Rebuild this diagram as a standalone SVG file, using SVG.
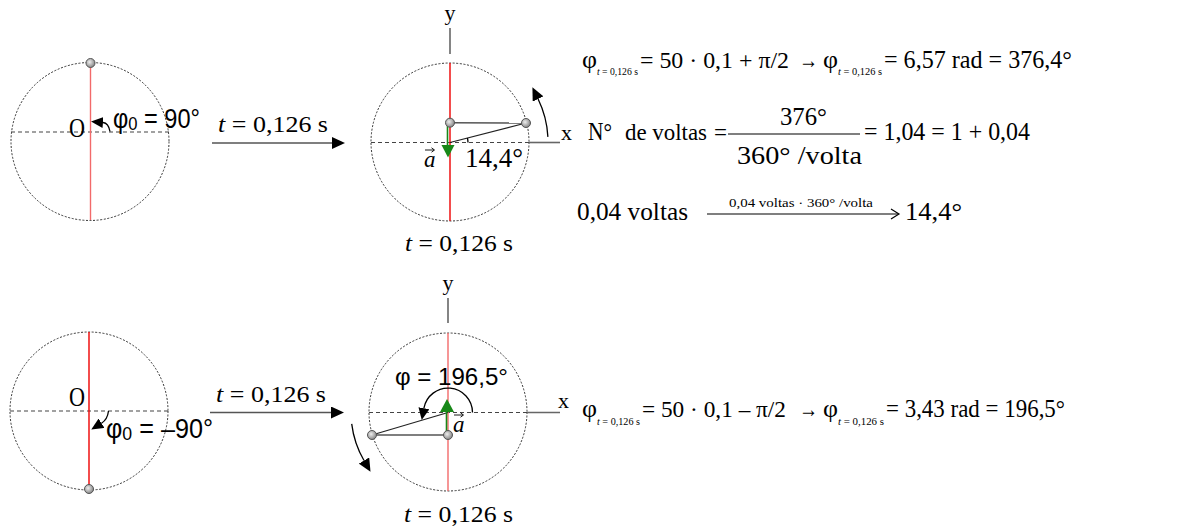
<svg xmlns="http://www.w3.org/2000/svg" width="1179" height="531" viewBox="0 0 1179 531">
<style>
  .circ{fill:none;stroke:#333;stroke-width:1;stroke-dasharray:2 1.6}
  .dash{fill:none;stroke:#444;stroke-width:1.2;stroke-dasharray:4 3}
  .axis{fill:none;stroke:#666;stroke-width:1.6}
  .red{stroke:#e00;stroke-width:1.4}
  .pink{stroke:#f26a6a;stroke-width:1.4}
  .rad{stroke:#222;stroke-width:1.2}
  .hor{stroke:#555;stroke-width:1.4}
  .grn{stroke:#188818;stroke-width:1.6}
  .dot{fill:url(#gd);stroke:#555;stroke-width:1}
  .curve{fill:none;stroke:#000;stroke-width:1.3}
  .conn{fill:none;stroke:#555;stroke-width:1.5}
  .serif{font-family:"Liberation Serif","DejaVu Serif",serif;fill:#000}
  .sans{font-family:"Liberation Sans","DejaVu Sans",sans-serif;fill:#000}
  .it{font-style:italic}
</style>
<defs>
  <radialGradient id="gd" cx="40%" cy="40%" r="60%">
    <stop offset="0" stop-color="#eee"/>
    <stop offset="1" stop-color="#888"/>
  </radialGradient>
  <marker id="hd" markerUnits="userSpaceOnUse" markerWidth="14" markerHeight="12" refX="0" refY="6" orient="auto">
    <path d="M0,0 L13,6 L0,12 z" fill="#000"/>
  </marker>
  <marker id="hs" markerUnits="userSpaceOnUse" markerWidth="13" markerHeight="11" refX="0" refY="5.5" orient="auto">
    <path d="M0,0 L12,5.5 L0,11 z" fill="#000"/>
  </marker>
  <marker id="ho" markerUnits="userSpaceOnUse" markerWidth="12" markerHeight="12" refX="9" refY="6" orient="auto">
    <path d="M2,1 L10,6 L2,11" fill="none" stroke="#000" stroke-width="1.2"/>
  </marker>
</defs>

<!-- Top-left circle -->
<g id="circle-top-left">
  <circle class="circ" cx="90" cy="141.5" r="79"/>
  <line class="dash" x1="11" y1="132" x2="169" y2="132"/>
  <line class="pink" x1="90.5" y1="63" x2="90.5" y2="220"/>
  <circle class="dot" cx="90.5" cy="63" r="4.5"/>
  <path class="curve" d="M110,131.5 Q108.5,123 103,122.5" marker-end="url(#hs)"/>
  <text class="serif" x="69" y="137" font-size="27" textLength="16" lengthAdjust="spacingAndGlyphs">O</text>
  <text class="sans" x="113" y="128" font-size="27" textLength="87" lengthAdjust="spacingAndGlyphs">φ<tspan font-size="19" dy="2">0</tspan><tspan dy="-2"> = 90°</tspan></text>
</g>

<!-- Top-middle circle -->
<g id="circle-top-middle">
  <circle class="circ" cx="450" cy="142" r="79"/>
  <line class="dash" x1="371" y1="142.5" x2="529" y2="142.5"/>
  <line class="axis" x1="529" y1="142.5" x2="560" y2="142.5"/>
  <line class="axis" x1="450" y1="28" x2="450" y2="54"/>
  <text class="serif" x="450" y="20" font-size="22" text-anchor="middle">y</text>
  <text class="serif" x="561" y="140" font-size="22">x</text>
  <line class="red" x1="450" y1="63" x2="450" y2="221"/>
  <line class="hor" x1="450" y1="122.7" x2="526" y2="123"/>
  <line class="rad" x1="450" y1="142.5" x2="526" y2="123"/>
  <path class="curve" d="M468,142.5 A18,18 0 0,0 467.4,138" stroke-width="1"/>
  <line class="grn" x1="447.5" y1="123" x2="447.5" y2="146"/>
  <polygon points="441.5,145 454.5,145 448,157.5" fill="#188818"/>
  <circle class="dot" cx="450" cy="122.7" r="4.5"/>
  <circle class="dot" cx="526" cy="123" r="4.5"/>
  <path class="curve" d="M547.9,136.9 A98,98 0 0,0 538.1,99" marker-end="url(#hd)"/>
  <text class="serif it" x="424" y="167" font-size="23">a</text>
  <path d="M425,150 L434,150 M431.5,147.8 L434.5,150 L431.5,152.2" fill="none" stroke="#000" stroke-width="0.9"/>
  <text class="serif" x="465" y="167" font-size="27" textLength="58" lengthAdjust="spacingAndGlyphs">14,4°</text>
  <text class="serif" x="405" y="251" font-size="24" textLength="108" lengthAdjust="spacingAndGlyphs"><tspan class="it">t</tspan> = 0,126 s</text>
</g>

<!-- Bottom-left circle -->
<g id="circle-bottom-left">
  <circle class="circ" cx="89" cy="411" r="79"/>
  <line class="dash" x1="10" y1="411" x2="168" y2="411"/>
  <line class="red" x1="89" y1="332" x2="89" y2="489"/>
  <circle class="dot" cx="89" cy="489" r="4.5"/>
  <path class="curve" d="M108.5,411 Q107.5,419.5 101.5,423.2" marker-end="url(#hs)"/>
  <text class="serif" x="69" y="406" font-size="27" textLength="16" lengthAdjust="spacingAndGlyphs">O</text>
  <text class="sans" x="106" y="438" font-size="27" textLength="107" lengthAdjust="spacingAndGlyphs">φ<tspan font-size="19" dy="2">0</tspan><tspan dy="-2"> = –90°</tspan></text>
</g>

<!-- Bottom-middle circle -->
<g id="circle-bottom-middle">
  <circle class="circ" cx="448" cy="412" r="79"/>
  <line class="dash" x1="369" y1="412.5" x2="527" y2="412.5"/>
  <line class="axis" x1="527" y1="412.5" x2="560" y2="412.5"/>
  <line class="axis" x1="448" y1="298" x2="448" y2="323"/>
  <text class="serif" x="448" y="290" font-size="22" text-anchor="middle">y</text>
  <text class="serif" x="558" y="408" font-size="22">x</text>
  <line class="pink" x1="448" y1="333" x2="448" y2="491"/>
  <line class="hor" x1="372" y1="435" x2="448" y2="435"/>
  <line class="rad" x1="448" y1="412.5" x2="372" y2="435"/>
  <line class="grn" x1="446.5" y1="435" x2="446.5" y2="411"/>
  <polygon points="440,412 454,412 447,399" fill="#188818"/>
  <circle class="dot" cx="448" cy="435" r="4.5"/>
  <circle class="dot" cx="372" cy="435" r="4.5"/>
  <path class="curve" d="M472.5,412.5 A24.5,24.5 0 0,0 423.9,408.2" marker-end="url(#hs)"/>
  <path class="curve" d="M351.7,423.8 A97,97 0 0,0 364,460.5" marker-end="url(#hd)"/>
  <text class="serif it" x="453" y="432" font-size="23">a</text>
  <path d="M454,415 L463,415 M460.5,412.8 L463.5,415 L460.5,417.2" fill="none" stroke="#000" stroke-width="0.9"/>
  <text class="sans" x="395" y="385" font-size="24" textLength="113" lengthAdjust="spacingAndGlyphs">φ = 196,5°</text>
  <text class="serif" x="404" y="522" font-size="24" textLength="109" lengthAdjust="spacingAndGlyphs"><tspan class="it">t</tspan> = 0,126 s</text>
</g>

<!-- Connectors -->
<g id="connectors">
  <line class="conn" x1="212" y1="143" x2="332" y2="143" marker-end="url(#hd)"/>
  <line class="conn" x1="210" y1="412.5" x2="331" y2="412.5" marker-end="url(#hd)"/>
</g>
<g id="connector-labels">
  <text class="serif" x="218" y="132" font-size="24" textLength="110" lengthAdjust="spacingAndGlyphs"><tspan class="it">t</tspan> = 0,126 s</text>
  <text class="serif" x="216" y="402" font-size="24" textLength="110" lengthAdjust="spacingAndGlyphs"><tspan class="it">t</tspan> = 0,126 s</text>
</g>

<!-- Formula top line 1 -->
<g id="formula-1">
  <text class="serif" x="582" y="68" font-size="26">φ</text>
  <text class="serif" x="597" y="75" font-size="11" textLength="41" lengthAdjust="spacingAndGlyphs"><tspan class="it">t</tspan> = 0,126 s</text>
  <text class="serif" x="640" y="68" font-size="24" textLength="149" lengthAdjust="spacingAndGlyphs">= 50 · 0,1 + π/2</text>
  <text class="serif" x="799" y="68" font-size="24" textLength="19" lengthAdjust="spacingAndGlyphs">→</text>
  <text class="serif" x="823" y="68" font-size="26">φ</text>
  <text class="serif" x="838" y="75" font-size="11" textLength="44" lengthAdjust="spacingAndGlyphs"><tspan class="it">t</tspan> = 0,126 s</text>
  <text class="serif" x="884" y="68" font-size="26" textLength="188" lengthAdjust="spacingAndGlyphs">= 6,57 rad = 376,4°</text>
</g>

<!-- Formula line 2 -->
<g id="formula-2">
  <text class="serif" x="588" y="140" font-size="26" textLength="24" lengthAdjust="spacingAndGlyphs">N°</text>
  <text class="serif" x="625" y="140" font-size="24" textLength="82" lengthAdjust="spacingAndGlyphs">de voltas</text>
  <text class="serif" x="714" y="140" font-size="24" textLength="13" lengthAdjust="spacingAndGlyphs">=</text>
  <text class="serif" x="780" y="125" font-size="26" textLength="47" lengthAdjust="spacingAndGlyphs">376°</text>
  <line x1="728" y1="134" x2="860" y2="134" stroke="#000" stroke-width="1.2"/>
  <text class="serif" x="737" y="164" font-size="26" textLength="125" lengthAdjust="spacingAndGlyphs">360° /volta</text>
  <text class="serif" x="864" y="140" font-size="26" textLength="166" lengthAdjust="spacingAndGlyphs">= 1,04 = 1 + 0,04</text>
</g>

<!-- Formula line 3 -->
<g id="formula-3">
  <text class="serif" x="577" y="220" font-size="26" textLength="111" lengthAdjust="spacingAndGlyphs">0,04 voltas</text>
  <line x1="707" y1="214" x2="898" y2="214" stroke="#000" stroke-width="1.2" marker-end="url(#ho)"/>
  <text class="serif" x="729" y="207" font-size="13" textLength="144" lengthAdjust="spacingAndGlyphs">0,04 voltas · 360° /volta</text>
  <text class="serif" x="905" y="220" font-size="26" textLength="57" lengthAdjust="spacingAndGlyphs">14,4°</text>
</g>

<!-- Formula bottom -->
<g id="formula-4">
  <text class="serif" x="582" y="417" font-size="26">φ</text>
  <text class="serif" x="597" y="425" font-size="11" textLength="43" lengthAdjust="spacingAndGlyphs"><tspan class="it">t</tspan> = 0,126 s</text>
  <text class="serif" x="642" y="417" font-size="23.5" textLength="144" lengthAdjust="spacingAndGlyphs">= 50 · 0,1 – π/2</text>
  <text class="serif" x="799" y="417" font-size="24" textLength="19" lengthAdjust="spacingAndGlyphs">→</text>
  <text class="serif" x="823" y="417" font-size="26">φ</text>
  <text class="serif" x="838" y="425" font-size="11" textLength="46" lengthAdjust="spacingAndGlyphs"><tspan class="it">t</tspan> = 0,126 s</text>
  <text class="serif" x="886" y="417" font-size="26" textLength="179" lengthAdjust="spacingAndGlyphs">= 3,43 rad = 196,5°</text>
</g>
</svg>
